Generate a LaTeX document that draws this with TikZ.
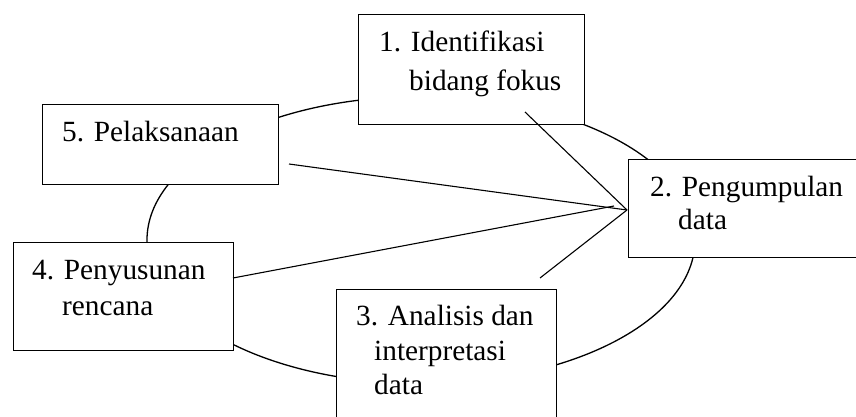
\documentclass[tikz,border=0pt]{standalone}
\usepackage{fontspec}
\setmainfont{Liberation Serif}
\begin{document}
\begin{tikzpicture}[x=1pt,y=-1pt,
  stepbox/.style={draw, fill=white, line width=1.3pt, inner sep=0pt, anchor=north west},
  link/.style={line width=1.1pt},
  ring/.style={line width=1.3pt},
  lbl/.style={anchor=base west, inner sep=0pt, font=\fontsize{29.3}{35}\selectfont}]
\useasboundingbox (0,0) rectangle (856,417);
\clip (0,0) rectangle (856,417);
% cycle ellipse behind the boxes
\draw[ring] (421,240) ellipse [x radius=274, y radius=143.5];
% boxes
\node[stepbox, minimum width=226pt, minimum height=110pt] (b1) at (358,14) {};
\node[stepbox, minimum width=250pt, minimum height=98pt] (b2) at (628,159) {};
\node[stepbox, minimum width=220pt, minimum height=150pt] (b3) at (336,289) {};
\node[stepbox, minimum width=220pt, minimum height=108pt] (b4) at (13,242) {};
\node[stepbox, minimum width=236pt, minimum height=80pt] (b5) at (42,104) {};
% converging lines
\coordinate (hub) at (627,210);
\coordinate (hubb) at (614,206);
\coordinate (s1) at (525,112);
\coordinate (s5) at (289,164);
\coordinate (s4) at (233,278);
\coordinate (s3) at (540,278);
\draw[link] (s1) -- (hub);
\draw[link] (s5) -- (hub);
\draw[link] (s4) -- (hubb);
\draw[link] (s3) -- (hub);
% texts
\node[lbl] (t1a) at (379,52) {1. Identifikasi};
\node[lbl] (t1b) at (409,91) {bidang fokus};
\node[lbl] (t2a) at (650,196) {2. Pengumpulan};
\node[lbl] (t2b) at (678,229) {data};
\node[lbl] (t3a) at (356,325) {3. Analisis dan};
\node[lbl] (t3b) at (374,360) {interpretasi};
\node[lbl] (t3c) at (374,394) {data};
\node[lbl] (t4a) at (32,279) {4. Penyusunan};
\node[lbl] (t4b) at (62,315) {rencana};
\node[lbl] (t5) at (62,142) {5. Pelaksanaan};
\end{tikzpicture}
\end{document}
